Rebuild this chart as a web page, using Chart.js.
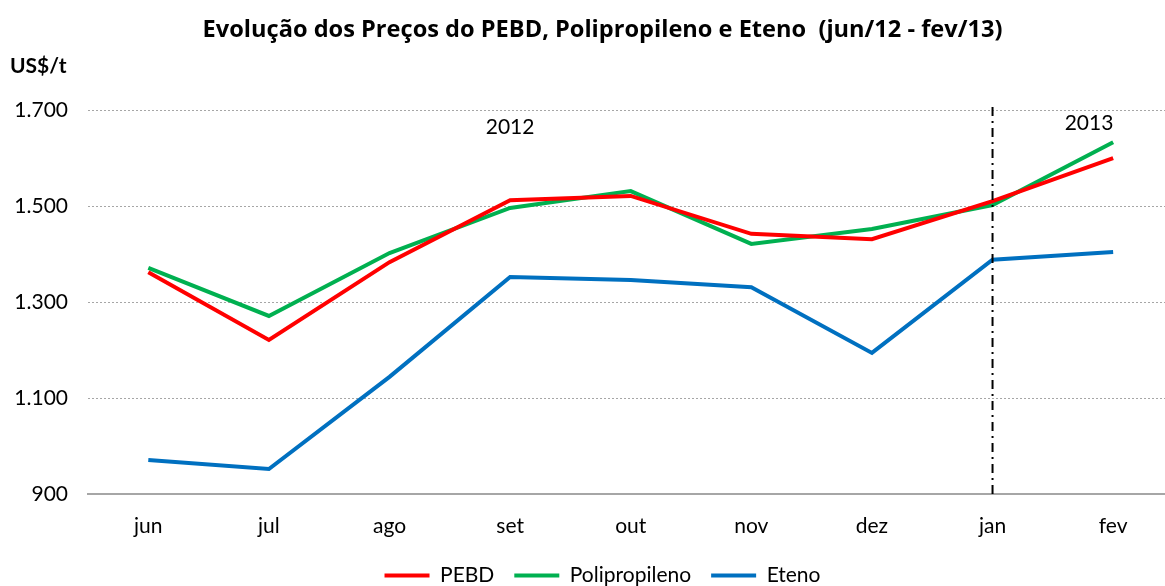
<!DOCTYPE html>
<html>
<head>
<meta charset="utf-8">
<script src="https://cdn.jsdelivr.net/npm/chart.js@4.4.1/dist/chart.umd.min.js"></script>
<style>
  html, body { margin: 0; padding: 0; background: #fff; }
  #wrap { width: 1165px; height: 586px; position: relative; }
</style>
</head>
<body>
<div id="wrap"><canvas id="chart"></canvas></div>
<script>
const months = ["jun", "jul", "ago", "set", "out", "nov", "dez", "jan", "fev"];
const pebd = [1362, 1221, 1383, 1512, 1521, 1442, 1431, 1510, 1600];
const polipropileno = [1371, 1271, 1402, 1496, 1531, 1421, 1452, 1502, 1633];
const eteno = [971, 952, 1144, 1352, 1346, 1331, 1194, 1388, 1404];
const yearLabels = [
    { text: "2012", x: 3, y: 1664 },
    { text: "2013", x: 7.8, y: 1673 }
];
const yearDivider = 7; // jan

const FONT = "Lato, 'Open Sans', sans-serif";
const TITLE_FONT = "'Open Sans', Lato, sans-serif";

function toPoints(values) {
    return values.map((v, i) => ({ x: i, y: v }));
}

// title and legend sit a bit right of the canvas centre in the original
const shiftBoxesPlugin = {
    id: "shiftBoxes",
    afterLayout(chart) {
        for (const box of [chart.titleBlock, chart.legend]) {
            if (box) {
                box.left += 20;
                box.right += 20;
            }
        }
    }
};

const overlayPlugin = {
    id: "overlay",
    afterDatasetsDraw(chart) {
        const { ctx, chartArea, scales } = chart;
        const x = scales.x.getPixelForValue(yearDivider);

        ctx.save();
        ctx.strokeStyle = "#000";
        ctx.lineWidth = 2;
        ctx.setLineDash([9, 5, 2, 5]);
        ctx.beginPath();
        ctx.moveTo(x, chartArea.top - 3);
        ctx.lineTo(x, chartArea.bottom);
        ctx.stroke();
        ctx.setLineDash([]);

        ctx.fillStyle = "#000";
        ctx.font = "21px " + FONT;
        ctx.textAlign = "center";
        ctx.textBaseline = "middle";
        for (const label of yearLabels) {
            ctx.fillText(label.text, scales.x.getPixelForValue(label.x), scales.y.getPixelForValue(label.y));
        }

        ctx.font = "bold 21px " + FONT;
        ctx.textAlign = "left";
        ctx.fillText("US$/t", 10, chartArea.top - 44);
        ctx.restore();
    }
};

new Chart(document.getElementById("chart").getContext("2d"), {
    type: "line",
    data: {
        datasets: [
            { label: "PEBD", data: toPoints(pebd), borderColor: "#ff0000", backgroundColor: "#ff0000", borderWidth: 4 },
            { label: "Polipropileno", data: toPoints(polipropileno), borderColor: "#00b050", backgroundColor: "#00b050", borderWidth: 4 },
            { label: "Eteno", data: toPoints(eteno), borderColor: "#0070c0", backgroundColor: "#0070c0", borderWidth: 4 }
        ]
    },
    options: {
        animation: false,
        responsive: true,
        maintainAspectRatio: false,
        elements: {
            line: { borderWidth: 4, tension: 0 },
            point: { radius: 0, hoverRadius: 0 }
        },
        layout: {
            padding: { top: 0, left: 0, right: 0, bottom: -10 }
        },
        plugins: {
            title: {
                display: true,
                text: "Evolução dos Preços do PEBD, Polipropileno e Eteno  (jun/12 - fev/13)",
                color: "#000",
                font: { family: TITLE_FONT, size: 23.6, weight: "bold" },
                padding: { top: 16, bottom: 65.7 }
            },
            legend: {
                position: "bottom",
                labels: {
                    color: "#000",
                    font: { family: FONT, size: 21 },
                    usePointStyle: true,
                    pointStyle: "line",
                    pointStyleWidth: 45,
                    padding: 20
                }
            },
            tooltip: { enabled: false }
        },
        scales: {
            x: {
                type: "linear",
                min: -0.5,
                max: 8.43,
                grid: { display: false },
                border: { display: true, color: "#a6a6a6", width: 2 },
                ticks: {
                    autoSkip: false,
                    maxRotation: 0,
                    color: "#000",
                    font: { family: FONT, size: 21 },
                    padding: 12,
                    callback: (value) => months[value] ?? ""
                },
                afterBuildTicks: (scale) => {
                    scale.ticks = months.map((m, i) => ({ value: i }));
                },
                afterFit: (scale) => { scale.height = 51; }
            },
            y: {
                min: 900,
                max: 1700,
                grid: {
                    color: (c) => c.tick.value === 900 ? "rgba(0,0,0,0)" : "#a6a6a6",
                    lineWidth: 1,
                    drawTicks: false
                },
                border: { display: false, dash: [2, 2] },
                ticks: {
                    stepSize: 200,
                    color: "#000",
                    font: { family: FONT, size: 21 },
                    padding: 20,
                    callback: (value) => value.toLocaleString("pt-BR")
                },
                afterFit: (scale) => { scale.width = 88; }
            }
        }
    },
    plugins: [shiftBoxesPlugin, overlayPlugin]
});
</script>
</body>
</html>
